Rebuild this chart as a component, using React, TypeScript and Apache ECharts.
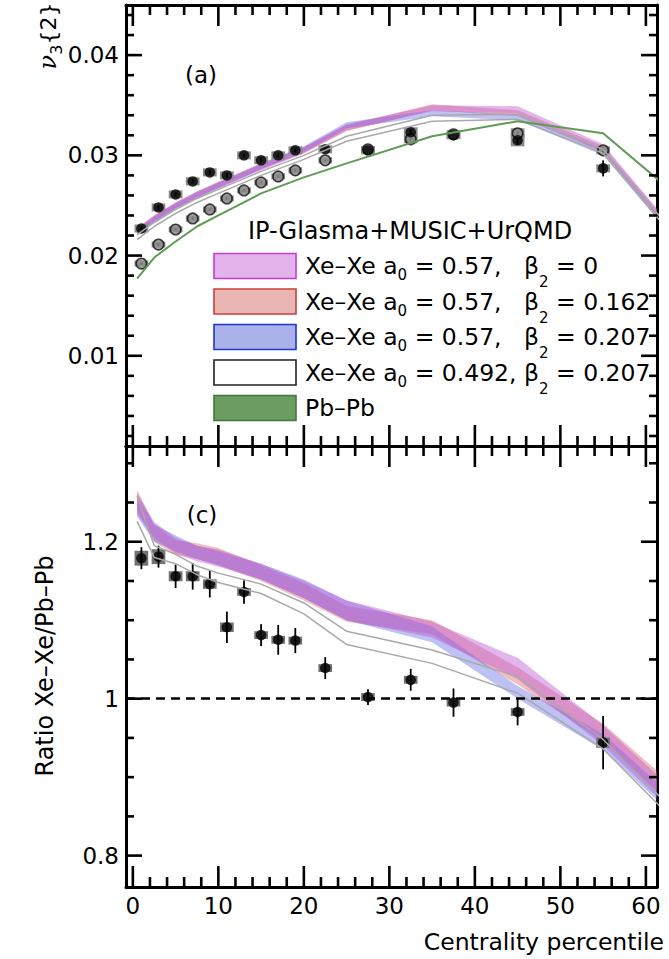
import React, { useEffect, useRef } from 'react';
import * as echarts from 'echarts';

// ---------- axes ----------
const xRange = [-0.8, 61.3];
const xMajorTicks = [0, 10, 20, 30, 40, 50, 60];
const xMinorTicks = [2, 4, 6, 8, 12, 14, 16, 18, 22, 24, 26, 28, 32, 34, 36, 38, 42, 44, 46, 48, 52, 54, 56, 58];
const v3Range = [0.001, 0.045];
const v3MajorTicks = [0.01, 0.02, 0.03, 0.04];
const v3MinorTicks = [0.002, 0.004, 0.006, 0.008, 0.012, 0.014, 0.016, 0.018, 0.022, 0.024, 0.026, 0.028, 0.032, 0.034, 0.036, 0.038, 0.042, 0.044];
const ratioRange = [0.76, 1.322];
const ratioMajorTicks = [0.8, 1, 1.2];
const ratioMinorTicks = [0.85, 0.9, 0.95, 1.05, 1.1, 1.15, 1.25, 1.3];
const ratioReference = 1;

// ---------- measured data ----------
const dataX = [1, 3, 5, 7, 9, 11, 13, 15, 17, 19, 22.5, 27.5, 32.5, 37.5, 45, 55];
const xeV3 = [0.0227, 0.0248, 0.0261, 0.0274, 0.0283, 0.028, 0.03, 0.0295, 0.03, 0.0305, 0.0306, 0.0305, 0.0323, 0.032, 0.0315, 0.0287];
const xeV3Stat = [0.0002, 0.0002, 0.0002, 0.0002, 0.0002, 0.0002, 0.0002, 0.0002, 0.0002, 0.0002, 0.0002, 0.0002, 0.0003, 0.0004, 0.0004, 0.0008];
const xeV3Sys = [0.0004, 0.0004, 0.0004, 0.0004, 0.0004, 0.0004, 0.0004, 0.0004, 0.0004, 0.0004, 0.0004, 0.0004, 0.0005, 0.0004, 0.0006, 0.0004];
const pbV3 = [0.0192, 0.0211, 0.0226, 0.0237, 0.0246, 0.0257, 0.0265, 0.0273, 0.0279, 0.0285, 0.0295, 0.0306, 0.0316, 0.0321, 0.0322, 0.0305];
const pbV3Stat = [0.0001, 0.0001, 0.0001, 0.0001, 0.0001, 0.0001, 0.0001, 0.0001, 0.0001, 0.0001, 0.0001, 0.0001, 0.0001, 0.0002, 0.0002, 0.0003];
const pbV3Sys = [0.0003, 0.0003, 0.0003, 0.0003, 0.0003, 0.0003, 0.0003, 0.0003, 0.0003, 0.0003, 0.0003, 0.0003, 0.0004, 0.0004, 0.0005, 0.0004];
const ratio = [1.179, 1.181, 1.156, 1.156, 1.146, 1.091, 1.136, 1.081, 1.075, 1.074, 1.039, 1.002, 1.024, 0.995, 0.983, 0.944];
const ratioStat = [0.014, 0.014, 0.015, 0.017, 0.017, 0.02, 0.015, 0.014, 0.019, 0.016, 0.014, 0.01, 0.014, 0.018, 0.017, 0.034];
const ratioSys = [0.0095, 0.0095, 0.0064, 0.0064, 0.006, 0.006, 0.005, 0.005, 0.005, 0.005, 0.005, 0.005, 0.005, 0.005, 0.005, 0.0065];

// ---------- model (IP-Glasma+MUSIC+UrQMD) ----------
const modelX = [0.5, 2.5, 5, 7.5, 10, 15, 20, 25, 35, 45, 55, 65];
// v3{2}
const v3B0Lo = [0.0221, 0.0234, 0.0247, 0.0258, 0.0267, 0.0285, 0.0302, 0.0325, 0.0344, 0.0342, 0.0304, 0.0202];
const v3B0Hi = [0.0227, 0.024, 0.0253, 0.0264, 0.0273, 0.0291, 0.0308, 0.0331, 0.035, 0.0349, 0.0311, 0.0209];
const v3B162Lo = [0.0222, 0.0234, 0.0247, 0.0258, 0.0268, 0.0286, 0.0302, 0.0324, 0.0345, 0.0339, 0.0303, 0.0203];
const v3B162Hi = [0.0228, 0.024, 0.0253, 0.0264, 0.0274, 0.0292, 0.0308, 0.033, 0.0351, 0.0345, 0.0309, 0.0209];
const v3B207Lo = [0.022, 0.0233, 0.0246, 0.0257, 0.0267, 0.0286, 0.0303, 0.0327, 0.0339, 0.0335, 0.03, 0.02];
const v3B207Hi = [0.0226, 0.0239, 0.0252, 0.0263, 0.0273, 0.0292, 0.0309, 0.0333, 0.0345, 0.0341, 0.0306, 0.0206];
const v3A492Lo = [0.0216, 0.0229, 0.0242, 0.0253, 0.0262, 0.028, 0.0296, 0.0314, 0.0334, 0.0336, 0.0302, 0.0201];
const v3A492Hi = [0.0221, 0.0233, 0.0246, 0.0257, 0.0266, 0.0284, 0.03, 0.0319, 0.034, 0.0341, 0.0306, 0.0205];
const v3PbPb = [0.0177, 0.0198, 0.0214, 0.0229, 0.024, 0.0262, 0.0278, 0.0292, 0.0319, 0.0334, 0.0322, 0.025];
// ratio Xe-Xe / Pb-Pb
const rB0Lo = [1.235, 1.205, 1.185, 1.175, 1.168, 1.152, 1.128, 1.1, 1.078, 1.025, 0.94, 0.837];
const rB0Hi = [1.262, 1.225, 1.205, 1.195, 1.19, 1.172, 1.15, 1.125, 1.098, 1.052, 0.966, 0.866];
const rB162Lo = [1.24, 1.2, 1.183, 1.178, 1.17, 1.15, 1.125, 1.098, 1.082, 1.018, 0.945, 0.845];
const rB162Hi = [1.266, 1.222, 1.202, 1.198, 1.192, 1.17, 1.147, 1.118, 1.1, 1.04, 0.968, 0.873];
const rB207Lo = [1.232, 1.2, 1.188, 1.178, 1.17, 1.152, 1.128, 1.1, 1.072, 1.0, 0.935, 0.833];
const rB207Hi = [1.258, 1.222, 1.208, 1.195, 1.188, 1.172, 1.152, 1.125, 1.092, 1.016, 0.955, 0.857];
const rA492Lo = [1.226, 1.18, 1.172, 1.158, 1.148, 1.134, 1.108, 1.069, 1.045, 1.007, 0.936, 0.826];
const rA492Hi = [1.258, 1.195, 1.184, 1.169, 1.16, 1.146, 1.122, 1.086, 1.062, 1.028, 0.948, 0.838];

// ---------- texts ----------
const legendTitle = 'IP-Glasma+MUSIC+UrQMD';
const legendLabels = [
  '{n|Xe–Xe a}{s|0}{n| = 0.57,   β}{b|2}{n| = 0}',
  '{n|Xe–Xe a}{s|0}{n| = 0.57,   β}{b|2}{n| = 0.162}',
  '{n|Xe–Xe a}{s|0}{n| = 0.57,   β}{b|2}{n| = 0.207}',
  '{n|Xe–Xe a}{s|0}{n| = 0.492, β}{b|2}{n| = 0.207}',
  '{n|Pb–Pb}',
];
const xAxisTitle = 'Centrality percentile';
const ratioTitle = 'Ratio Xe–Xe/Pb–Pb';

// ---------- styles ----------
const FONT = '"DejaVu Sans", sans-serif';
const C_VIOLET = 'rgba(190, 90, 215, 0.45)';
const C_RED = 'rgba(222, 100, 100, 0.42)';
const C_BLUE = 'rgba(90, 100, 228, 0.40)';
const C_GRAY = '#a9a9a9';
const C_GREEN = '#5f9b55';
const legendFills = ['#e2b2ea', '#e9b6b4', '#abb2ea', '#ffffff', '#6b9d62'];
const legendStrokes = ['#c23dd0', '#c8403a', '#2036c8', '#222222', '#3f7a35'];
const SYS_HALF_WIDTH = 0.8;
const X_MAJOR_LEN = 21;
const X_MINOR_LEN = 10;
const Y_MAJOR_LEN = 16;
const Y_MINOR_LEN = 8;
const TICK_W = 2.6;
const TICK_FONT = 23;

const fmt = (v: number) => String(Math.round(v * 1e6) / 1e6);

function makeXAxes(gridIndex: number, labels: boolean) {
  return ['bottom', 'top'].map((position) => ({
    gridIndex,
    type: 'value',
    min: xRange[0],
    max: xRange[1],
    position,
    splitLine: { show: false },
    axisLine: { show: true, onZero: false, lineStyle: { color: '#000', width: 3 } },
    axisTick: { show: false },
    axisLabel: {
      show: labels && position === 'bottom',
      customValues: xMajorTicks,
      margin: 7,
      color: '#000',
      fontSize: TICK_FONT,
      fontFamily: FONT,
      formatter: fmt,
    },
  }));
}

function makeYAxes(gridIndex: number, range: number[], major: number[]) {
  return ['left', 'right'].map((position) => ({
    gridIndex,
    type: 'value',
    min: range[0],
    max: range[1],
    position,
    splitLine: { show: false },
    axisLine: { show: true, onZero: false, lineStyle: { color: '#000', width: 3 } },
    axisTick: { show: false },
    axisLabel: {
      show: position === 'left',
      customValues: major,
      margin: 7,
      color: '#000',
      fontSize: TICK_FONT,
      fontFamily: FONT,
      formatter: fmt,
    },
  }));
}

// inward ticks on all four sides, positioned through the axis scales
function xTickSeries(axisIndex: number, values: number[], yr: number[], len: number) {
  return {
    type: 'custom',
    name: 'x ticks',
    xAxisIndex: axisIndex,
    yAxisIndex: axisIndex,
    silent: true,
    clip: false,
    z: 10,
    data: values.map((v) => [v, yr[0]]),
    renderItem: (params: any, api: any) => {
      const v = api.value(0);
      const b = api.coord([v, yr[0]]);
      const t = api.coord([v, yr[1]]);
      const st = { stroke: '#000', lineWidth: TICK_W };
      return {
        type: 'group',
        children: [
          { type: 'line', shape: { x1: b[0], y1: b[1], x2: b[0], y2: b[1] - len }, style: st },
          { type: 'line', shape: { x1: t[0], y1: t[1], x2: t[0], y2: t[1] + len }, style: st },
        ],
      };
    },
  };
}

function yTickSeries(axisIndex: number, values: number[], len: number) {
  return {
    type: 'custom',
    name: 'y ticks',
    xAxisIndex: axisIndex,
    yAxisIndex: axisIndex,
    silent: true,
    clip: false,
    z: 10,
    data: values.map((v) => [xRange[0], v]),
    renderItem: (params: any, api: any) => {
      const v = api.value(1);
      const l = api.coord([xRange[0], v]);
      const r = api.coord([xRange[1], v]);
      const st = { stroke: '#000', lineWidth: TICK_W };
      return {
        type: 'group',
        children: [
          { type: 'line', shape: { x1: l[0], y1: l[1], x2: l[0] + len, y2: l[1] }, style: st },
          { type: 'line', shape: { x1: r[0], y1: r[1], x2: r[0] - len, y2: r[1] }, style: st },
        ],
      };
    },
  };
}

function bandSeries(name: string, axisIndex: number, lo: number[], hi: number[], fill: string) {
  return {
    type: 'custom',
    name,
    xAxisIndex: axisIndex,
    yAxisIndex: axisIndex,
    clip: true,
    silent: true,
    data: modelX.map((x, i) => [x, lo[i], hi[i]]),
    renderItem: (params: any, api: any) => {
      if (params.dataIndex !== 0) return null;
      const upper = modelX.map((x, i) => api.coord([x, hi[i]]));
      const lower = modelX.map((x, i) => api.coord([x, lo[i]])).reverse();
      return { type: 'polygon', shape: { points: upper.concat(lower) }, style: { fill, stroke: 'none' } };
    },
  };
}

function lineSeries(name: string, axisIndex: number, ys: number[], color: string, width: number) {
  return {
    type: 'line',
    name,
    xAxisIndex: axisIndex,
    yAxisIndex: axisIndex,
    data: modelX.map((x, i) => [x, ys[i]]),
    symbol: 'none',
    silent: true,
    clip: true,
    lineStyle: { color, width },
  };
}

function errorSeries(name: string, axisIndex: number, ys: number[], stat: number[], sys: number[], boxColor: string, extra: any = {}) {
  return {
    type: 'custom',
    name,
    xAxisIndex: axisIndex,
    yAxisIndex: axisIndex,
    silent: true,
    data: dataX.map((x, i) => [x, ys[i], stat[i], sys[i]]),
    renderItem: (params: any, api: any) => {
      const x = api.value(0);
      const y = api.value(1);
      const st = api.value(2);
      const sy = api.value(3);
      const p1 = api.coord([x - SYS_HALF_WIDTH, y + sy]);
      const p2 = api.coord([x + SYS_HALF_WIDTH, y - sy]);
      const e1 = api.coord([x, y + st]);
      const e2 = api.coord([x, y - st]);
      return {
        type: 'group',
        children: [
          { type: 'rect', shape: { x: p1[0], y: p1[1], width: p2[0] - p1[0], height: p2[1] - p1[1] }, style: { fill: boxColor } },
          { type: 'line', shape: { x1: e1[0], y1: e1[1], x2: e2[0], y2: e2[1] }, style: { stroke: '#000', lineWidth: 1.8 } },
        ],
      };
    },
    ...extra,
  };
}

function scatterSeries(name: string, axisIndex: number, ys: number[], itemStyle: any) {
  return {
    type: 'scatter',
    name,
    xAxisIndex: axisIndex,
    yAxisIndex: axisIndex,
    data: dataX.map((x, i) => [x, ys[i]]),
    symbol: 'circle',
    symbolSize: 10.5,
    silent: true,
    itemStyle,
  };
}

export default function App() {
  const ref = useRef<HTMLDivElement>(null);
  useEffect(() => {
    if (!ref.current) return;
    const chart = echarts.init(ref.current, undefined, { renderer: 'svg' });
    const TOP = 0;
    const BOT = 2;
    const rowY0 = 266;
    const rowStep = 35.5;
    const legendGraphics: any[] = [
      {
        type: 'text',
        x: 248,
        y: 231,
        style: { text: legendTitle, fontSize: 24, fontFamily: FONT, fill: '#000', align: 'left', verticalAlign: 'middle' },
      },
    ];
    legendLabels.forEach((label, i) => {
      const cy = rowY0 + i * rowStep;
      legendGraphics.push({
        type: 'rect',
        shape: { x: 214, y: cy - 12.5, width: 82, height: 25 },
        style: { fill: legendFills[i], stroke: legendStrokes[i], lineWidth: 1.6 },
      });
      legendGraphics.push({
        type: 'text',
        x: 305,
        y: cy,
        style: {
          text: label,
          fontFamily: FONT,
          fontSize: 23.5,
          fill: '#000',
          align: 'left',
          verticalAlign: 'middle',
          rich: {
            n: { fontSize: 23.5, fontFamily: FONT, fill: '#000' },
            s: { fontSize: 15, fontFamily: FONT, fill: '#000', padding: [18, 0, 0, 0] },
            b: { fontSize: 15, fontFamily: FONT, fill: '#000', padding: [32, 0, 0, 0] },
          },
        },
      });
    });

    const option: any = {
      animation: false,
      backgroundColor: '#fff',
      grid: [
        { left: 126, top: 5, width: 531, height: 441 },
        { left: 126, top: 446, width: 531, height: 441 },
      ],
      xAxis: [...makeXAxes(0, false), ...makeXAxes(1, true)],
      yAxis: [...makeYAxes(0, v3Range, v3MajorTicks), ...makeYAxes(1, ratioRange, ratioMajorTicks)],
      series: [
        // top panel: v3{2}
        bandSeries('Xe–Xe a0=0.57 β2=0.162', TOP, v3B162Lo, v3B162Hi, C_RED),
        bandSeries('Xe–Xe a0=0.57 β2=0.207', TOP, v3B207Lo, v3B207Hi, C_BLUE),
        bandSeries('Xe–Xe a0=0.57 β2=0', TOP, v3B0Lo, v3B0Hi, C_VIOLET),
        lineSeries('Xe–Xe a0=0.492 lower', TOP, v3A492Lo, C_GRAY, 1.5),
        lineSeries('Xe–Xe a0=0.492 upper', TOP, v3A492Hi, C_GRAY, 1.5),
        lineSeries('Pb–Pb', TOP, v3PbPb, C_GREEN, 2),
        errorSeries('Pb–Pb data err', TOP, pbV3, pbV3Stat, pbV3Sys, '#8e8e8e'),
        errorSeries('Xe–Xe data err', TOP, xeV3, xeV3Stat, xeV3Sys, '#8a8a8a'),
        scatterSeries('Pb–Pb data', TOP, pbV3, { color: '#8f8f8f', borderColor: '#111', borderWidth: 1.6 }),
        scatterSeries('Xe–Xe data', TOP, xeV3, { color: '#000' }),
        // bottom panel: ratio
        bandSeries('ratio β2=0.162', BOT, rB162Lo, rB162Hi, C_RED),
        bandSeries('ratio β2=0.207', BOT, rB207Lo, rB207Hi, C_BLUE),
        bandSeries('ratio β2=0', BOT, rB0Lo, rB0Hi, C_VIOLET),
        lineSeries('ratio a0=0.492 lower', BOT, rA492Lo, C_GRAY, 1.5),
        lineSeries('ratio a0=0.492 upper', BOT, rA492Hi, C_GRAY, 1.5),
        errorSeries('ratio data err', BOT, ratio, ratioStat, ratioSys, '#727272', {
          markLine: {
            silent: true,
            symbol: 'none',
            label: { show: false },
            lineStyle: { color: '#000', width: 2.5, type: [9, 6] },
            data: [{ yAxis: ratioReference }],
          },
        }),
        scatterSeries('ratio data', BOT, ratio, { color: '#000' }),
        // ticks
        xTickSeries(TOP, xMajorTicks, v3Range, X_MAJOR_LEN),
        xTickSeries(TOP, xMinorTicks, v3Range, X_MINOR_LEN),
        yTickSeries(TOP, v3MajorTicks, Y_MAJOR_LEN),
        yTickSeries(TOP, v3MinorTicks, Y_MINOR_LEN),
        xTickSeries(BOT, xMajorTicks, ratioRange, X_MAJOR_LEN),
        xTickSeries(BOT, xMinorTicks, ratioRange, X_MINOR_LEN),
        yTickSeries(BOT, ratioMajorTicks, Y_MAJOR_LEN),
        yTickSeries(BOT, ratioMinorTicks, Y_MINOR_LEN),
      ],
      graphic: [
        {
          type: 'text',
          x: 48,
          y: 36,
          rotation: Math.PI / 2,
          style: {
            text: '{nu|ν}{sub|3}{2}',
            fontSize: 22,
            fontFamily: FONT,
            fill: '#000',
            align: 'center',
            verticalAlign: 'middle',
            rich: {
              nu: { fontSize: 24, fontFamily: '"DejaVu Serif", serif', fontStyle: 'italic', fill: '#000' },
              sub: { fontSize: 16, fontFamily: FONT, fill: '#000', padding: [16, 0, 0, 0] },
            },
          },
        },
        {
          type: 'text',
          x: 45,
          y: 666,
          rotation: Math.PI / 2,
          style: { text: ratioTitle, fontSize: 24, fontFamily: FONT, fill: '#000', align: 'center', verticalAlign: 'middle' },
        },
        {
          type: 'text',
          x: 664,
          y: 942,
          style: { text: xAxisTitle, fontSize: 23.5, fontFamily: FONT, fill: '#000', align: 'right', verticalAlign: 'middle' },
        },
        {
          type: 'text',
          x: 201,
          y: 75,
          style: { text: '(a)', fontSize: 23, fontFamily: FONT, fill: '#000', align: 'center', verticalAlign: 'middle' },
        },
        {
          type: 'text',
          x: 202,
          y: 515,
          style: { text: '(c)', fontSize: 23, fontFamily: FONT, fill: '#000', align: 'center', verticalAlign: 'middle' },
        },
        ...legendGraphics,
      ],
    };
    chart.setOption(option);
    return () => chart.dispose();
  }, []);
  return <div ref={ref} style={{ position: 'absolute', left: 0, top: 0, width: 669, height: 959 }} />;
}
